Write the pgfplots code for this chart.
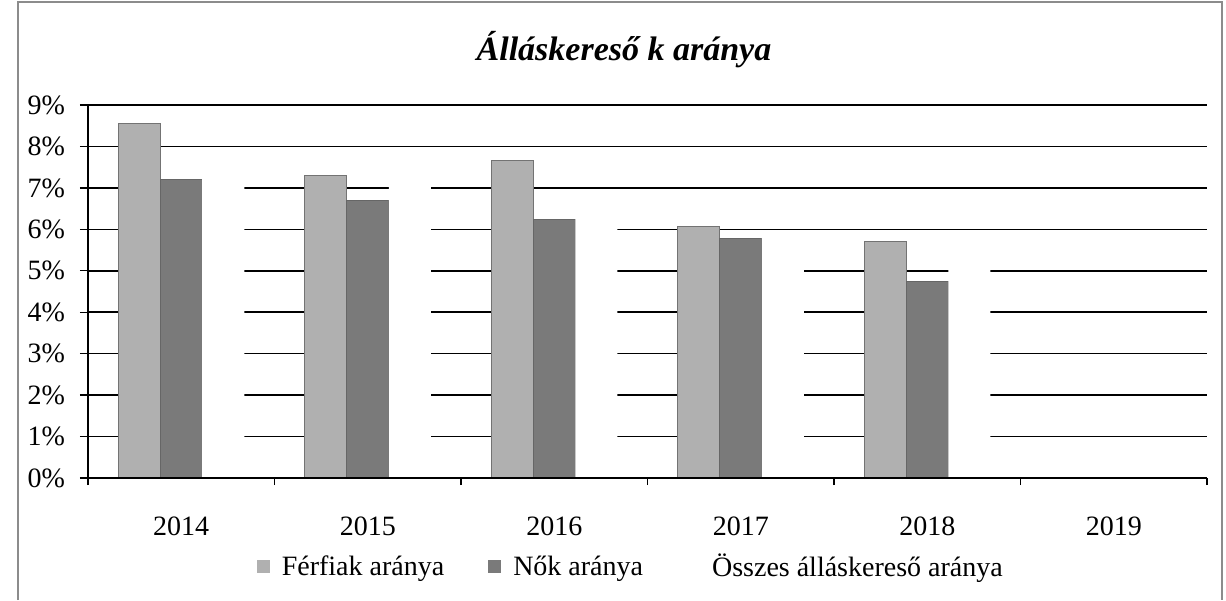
\documentclass[border=0pt]{standalone}
\usepackage{fontspec}
\setmainfont{Liberation Serif}
\usepackage{pgfplots}
\pgfplotsset{compat=1.18}
\definecolor{ferfi}{RGB}{176,176,176}
\definecolor{nok}{RGB}{122,122,122}

\begin{document}
\begin{tikzpicture}
  % page frame: 1 pt = 2 px of the reference
  \path[use as bounding box] (-44pt,-61pt) rectangle (569pt,239pt);
  \begin{axis}[
    at={(0,0)}, anchor=south west,
    scale only axis,
    width=559.5pt, height=186.5pt,
    xmin=-0.5, xmax=5.5,
    ymin=0, ymax=9,
    axis x line*=bottom, axis y line*=left,
    axis line style={black, line width=0.7pt},
    ybar=0pt, bar width=21pt,
    xtick={0,...,5},
    xticklabels={2014,2015,2016,2017,2018,2019},
    minor xtick={-0.5,0.5,...,5.5},
    every major x tick/.append style={draw=none},
    every minor x tick/.append style={black, line width=0.7pt},
    minor tick length=3.5pt,
    ytick={0,1,...,9},
    yticklabels={0\%,1\%,2\%,3\%,4\%,5\%,6\%,7\%,8\%,9\%},
    ytick style={black, line width=0.7pt},
    major tick length=4pt,
    tick align=outside,
    ymajorgrids,
    grid style={black, line width=0.8pt},
    tick label style={font=\fontsize{14}{16}\selectfont},
    xticklabel style={yshift=-12pt},
    yticklabel style={xshift=-4pt},
    legend columns=3,
    legend style={at={(0.486,-0.2386)}, anchor=center, draw=none,
      font=\fontsize{14}{16}\selectfont,
      /tikz/every odd column/.append style={column sep=4pt},
      /tikz/every even column/.append style={column sep=20pt}},
    legend image code/.code={\draw[#1, draw=none] (0pt,-3.25pt) rectangle (6.5pt,3.25pt);},
  ]
    \addplot[fill=ferfi, draw=black!55, line width=0.4pt]
      coordinates {(0,8.55)(1,7.29)(2,7.66)(3,6.07)(4,5.71)};
    \addlegendentry{Férfiak aránya}
    \addplot[fill=nok, draw=black!60, line width=0.4pt]
      coordinates {(0,7.20)(1,6.70)(2,6.23)(3,5.79)(4,4.74)};
    \addlegendentry{Nők aránya}
    % third series is white: it only hides the grid lines behind it
    \addplot[fill=white, draw=none]
      coordinates {(0,7.85)(1,7.02)(2,6.92)(3,5.92)(4,5.22)};
    \addlegendentry{Összes álláskereső aránya}
    % x axis line again, over the bars
    \draw[black, line width=0.7pt] (rel axis cs:0,0) -- (rel axis cs:1,0);
  \end{axis}
  \node[font=\fontsize{17}{19}\selectfont\bfseries\itshape] at (268pt,214pt) {Álláskereső k aránya};
  \draw[black!45, line width=0.6pt] (-35pt,-61pt) -- (-35pt,238pt) -- (567pt,238pt) -- (567pt,-61pt);
\end{tikzpicture}
\end{document}
